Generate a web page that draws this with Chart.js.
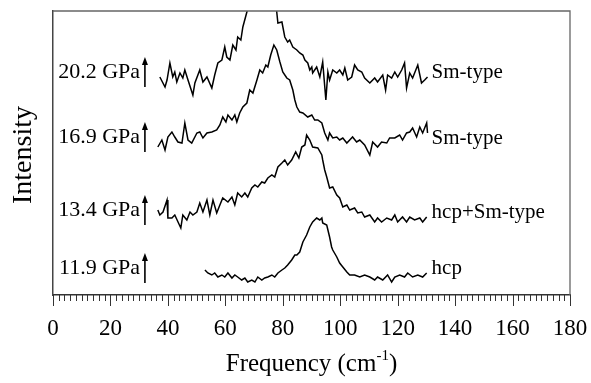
<!DOCTYPE html>
<html>
<head>
<meta charset="utf-8">
<script src="https://cdn.jsdelivr.net/npm/chart.js@4/dist/chart.umd.min.js"></script>
<style>
body{margin:0;background:#fff;}
#wrap{width:591px;height:383px;}
</style>
</head>
<body>
<div id="wrap"><canvas id="ramanChart" width="591" height="383"></canvas></div>
<script>
// x axis ticks
var xTicks = [0, 20, 40, 60, 80, 100, 120, 140, 160, 180];

// 20.2 GPa (Sm-type) - peak goes off the top of the frame
var freq202 = [37.2,39.0,39.7,40.7,41.7,42.4,43.1,44.2,45.2,45.9,47.0,48.7,49.4,51.1,52.2,53.6,55.3,56.3,57.4,58.8,59.8,60.5,61.6,62.6,63.7,64.3,65.4,66.1,67.5,69.2,71.0,74.0,76.5,77.9,78.3,79.7,80.7,81.7,82.4,83.5,84.9,85.9,87.0,87.7,88.7,89.4,90.1,90.4,91.8,92.9,93.9,95.0,95.7,96.3,97.4,98.8,99.8,100.9,101.6,102.6,104.0,105.0,106.1,107.5,108.5,110.3,112.0,113.0,114.8,115.8,116.5,117.9,119.0,120.0,121.4,122.4,123.1,124.2,125.2,127.0,128.3,129.4,130.4];
var int202  = [218,208,215,232,218,223,213,222,217,225,215,200,212,225,213,218,207,220,232,235,248,238,235,250,245,258,255,268,283,305,320,335,320,283,272,273,258,253,255,248,245,242,240,235,232,225,228,222,228,218,233,195,223,215,225,222,225,220,227,215,218,230,225,223,217,212,217,213,220,205,220,217,223,218,225,232,207,222,217,230,212,215,218];

// 16.9 GPa (Sm-type)
var freq169 = [36.5,37.9,39.0,40.0,41.4,42.4,43.5,44.9,45.9,47.0,48.3,50.1,51.1,52.2,53.6,55.3,57.0,58.1,59.1,60.2,60.9,62.3,63.3,64.0,65.0,66.1,67.5,68.5,69.6,71.0,72.0,73.0,74.1,74.8,75.8,76.9,77.9,79.0,80.0,81.4,82.4,83.5,84.2,84.9,85.9,87.0,88.7,90.1,91.1,92.2,93.6,94.6,95.7,96.3,97.4,98.8,99.8,100.9,102.3,103.3,104.3,105.7,106.8,108.5,110.3,111.3,113.0,114.4,116.2,117.2,119.0,120.7,121.7,123.1,124.2,125.2,126.6,127.7,128.7,130.1,130.4];
var int169  = [148,155,145,158,163,158,153,152,172,155,152,162,163,157,162,163,165,170,178,173,180,175,180,173,182,188,192,205,202,215,225,222,230,228,240,250,245,233,223,217,215,205,195,188,183,182,178,180,175,175,172,162,155,162,157,158,155,157,152,155,158,153,155,150,140,153,148,153,152,157,157,160,155,162,163,167,158,168,162,172,162];

// 13.4 GPa (hcp+Sm-type)
var freq134 = [36.5,37.2,38.3,39.7,40.0,41.4,42.4,44.5,45.2,46.6,47.7,48.7,50.1,51.1,52.2,53.6,54.6,55.7,57.0,58.1,59.1,60.9,62.3,63.3,64.3,65.7,66.8,67.8,69.2,70.3,71.3,72.7,73.7,74.8,76.2,77.2,78.3,79.7,80.7,81.7,83.1,84.5,85.6,86.6,87.7,88.3,89.4,90.4,92.2,93.6,93.9,94.6,95.3,96.3,97.4,98.8,99.8,100.9,102.3,103.3,105.0,106.1,107.5,108.5,110.3,112.0,113.0,114.4,116.2,117.9,119.0,120.0,121.7,123.1,124.2,125.9,127.7,128.7,130.1];
var int134  = [85,80,83,95,77,77,80,67,80,75,83,80,83,92,83,95,80,95,82,90,97,93,98,90,102,98,102,98,107,110,108,113,112,117,120,118,128,132,135,130,135,143,137,148,150,160,155,148,147,140,135,125,118,107,108,100,97,88,90,85,87,82,83,78,80,73,77,73,77,75,80,73,78,73,78,75,77,73,78];

// 11.9 GPa (hcp)
var freq119 = [52.9,53.9,55.3,56.3,57.4,58.8,59.8,60.9,62.3,63.3,64.3,65.7,66.8,67.8,69.2,70.3,71.3,72.7,73.7,74.8,76.2,77.2,78.3,79.7,80.7,81.7,83.1,84.2,84.9,85.9,87.0,88.3,89.4,90.4,91.8,92.9,93.6,93.9,95.3,96.3,97.0,97.4,98.8,99.8,100.9,102.3,103.3,105.0,106.8,108.5,110.3,112.0,113.0,114.8,116.5,117.9,119.0,120.7,122.4,123.5,125.2,127.0,128.7,130.1];
var int119  = [25,22,20,22,18,20,18,22,17,20,18,15,17,13,15,13,18,15,17,18,20,18,22,25,27,30,35,40,40,43,53,60,68,73,77,75,77,72,70,58,48,45,38,32,28,23,20,20,18,20,18,15,18,15,20,13,18,20,18,22,18,20,18,22];

// annotations
var pressureLabels = ["20.2 GPa", "16.9 GPa", "13.4 GPa", "11.9 GPa"];
var phaseLabels = ["Sm-type", "Sm-type", "hcp+Sm-type", "hcp"];
var pressureLevel = [223, 158, 85, 27];
var phaseLevel = [223, 157, 83, 27];

function toPoints(xs, ys){
	var pts = [];
	for(var k=0;k<xs.length;k++){
		pts.push({x: xs[k], y: ys[k]});
	}
	return pts;
}

function makeSet(xs, ys){
	return {
		data: toPoints(xs, ys),
		showLine: true,
		borderColor: "#000",
		borderWidth: 1.5,
		pointRadius: 0,
		tension: 0,
		fill: false
	};
}

var serif = "'Liberation Serif', 'Times New Roman', serif";

var decorPlugin = {
	id: "decor",
	afterDraw: function(chart){
		var ctx = chart.ctx;
		var ca = chart.chartArea;
		var xs = chart.scales.x;
		var ys = chart.scales.y;
		ctx.save();

		// frame top + right
		ctx.strokeStyle = "#666";
		ctx.lineWidth = 1.3;
		ctx.beginPath();
		ctx.moveTo(ca.left, ca.top);
		ctx.lineTo(ca.right, ca.top);
		ctx.lineTo(ca.right, ca.bottom);
		ctx.stroke();

		// minor / major ticks below the axis
		ctx.strokeStyle = "#333";
		ctx.lineWidth = 1;
		for(var v=0; v<=180; v+=2){
			var px = Math.round(xs.getPixelForValue(v)) + 0.5;
			var len = (v % 20 === 0) ? 11 : 6;
			ctx.beginPath();
			ctx.moveTo(px, ca.bottom);
			ctx.lineTo(px, ca.bottom + len);
			ctx.stroke();
		}

		// left pressure labels with arrows
		ctx.fillStyle = "#000";
		ctx.font = "22px " + serif;
		ctx.textBaseline = "middle";
		for(var i=0;i<pressureLabels.length;i++){
			var py = ys.getPixelForValue(pressureLevel[i]);
			ctx.textAlign = "right";
			ctx.fillText(pressureLabels[i], xs.getPixelForValue(30.3), py);
			var ax = xs.getPixelForValue(32.0);
			ctx.strokeStyle = "#000";
			ctx.lineWidth = 1.6;
			ctx.beginPath();
			ctx.moveTo(ax, py + 15);
			ctx.lineTo(ax, py - 10);
			ctx.stroke();
			ctx.beginPath();
			ctx.moveTo(ax, py - 15);
			ctx.lineTo(ax - 3, py - 7);
			ctx.lineTo(ax + 3, py - 7);
			ctx.closePath();
			ctx.fill();
		}

		// right phase labels
		ctx.font = "21px " + serif;
		ctx.textAlign = "left";
		for(var j=0;j<phaseLabels.length;j++){
			ctx.fillText(phaseLabels[j], xs.getPixelForValue(131.8), ys.getPixelForValue(phaseLevel[j]));
		}

		// y title
		ctx.save();
		ctx.font = "28px " + serif;
		ctx.textAlign = "center";
		ctx.translate(24, (ca.top + ca.bottom) / 2 + 2);
		ctx.rotate(-Math.PI / 2);
		ctx.fillText("Intensity", 0, 0);
		ctx.restore();

		// x title with superscript
		var main = "Frequency (cm";
		var sup = "-1";
		var tail = ")";
		ctx.font = "25px " + serif;
		var w1 = ctx.measureText(main).width;
		var w3 = ctx.measureText(tail).width;
		ctx.font = "15px " + serif;
		var w2 = ctx.measureText(sup).width;
		var total = w1 + w2 + w3;
		var cx = (ca.left + ca.right) / 2;
		var x0 = cx - total / 2;
		var yb = 371;
		ctx.textAlign = "left";
		ctx.textBaseline = "alphabetic";
		ctx.font = "25px " + serif;
		ctx.fillText(main, x0, yb);
		ctx.font = "15px " + serif;
		ctx.fillText(sup, x0 + w1, yb - 11);
		ctx.font = "25px " + serif;
		ctx.fillText(tail, x0 + w1 + w2, yb);

		ctx.restore();
	}
};

var ramanChart = new Chart(document.getElementById("ramanChart").getContext("2d"), {
	type: "scatter",
	data: {
		datasets: [
			makeSet(freq202, int202),
			makeSet(freq169, int169),
			makeSet(freq134, int134),
			makeSet(freq119, int119)
		]
	},
	options: {
		responsive: false,
		animation: false,
		devicePixelRatio: 1,
		layout: { padding: { left: 0, right: 21, top: 11, bottom: 0 } },
		plugins: { legend: { display: false }, tooltip: { enabled: false } },
		scales: {
			x: {
				type: "linear",
				min: 0,
				max: 180,
				afterBuildTicks: function(scale){
					scale.ticks = xTicks.map(function(v){ return {value: v}; });
				},
				afterFit: function(scale){
					scale.height = 88;
					scale.paddingLeft = 0;
					scale.paddingRight = 0;
				},
				grid: { display: false, drawTicks: false, tickLength: 0 },
				border: { display: true, color: "#333", width: 1.5 },
				ticks: {
					color: "#000",
					padding: 20,
					maxRotation: 0,
					autoSkip: false,
					font: { family: serif, size: 23 }
				}
			},
			y: {
				type: "linear",
				min: 0,
				max: 284,
				afterFit: function(scale){ scale.width = 53; },
				grid: { display: false, drawTicks: false },
				border: { display: true, color: "#444", width: 1.5 },
				ticks: { display: false }
			}
		}
	},
	plugins: [decorPlugin]
});
</script>
</body>
</html>
